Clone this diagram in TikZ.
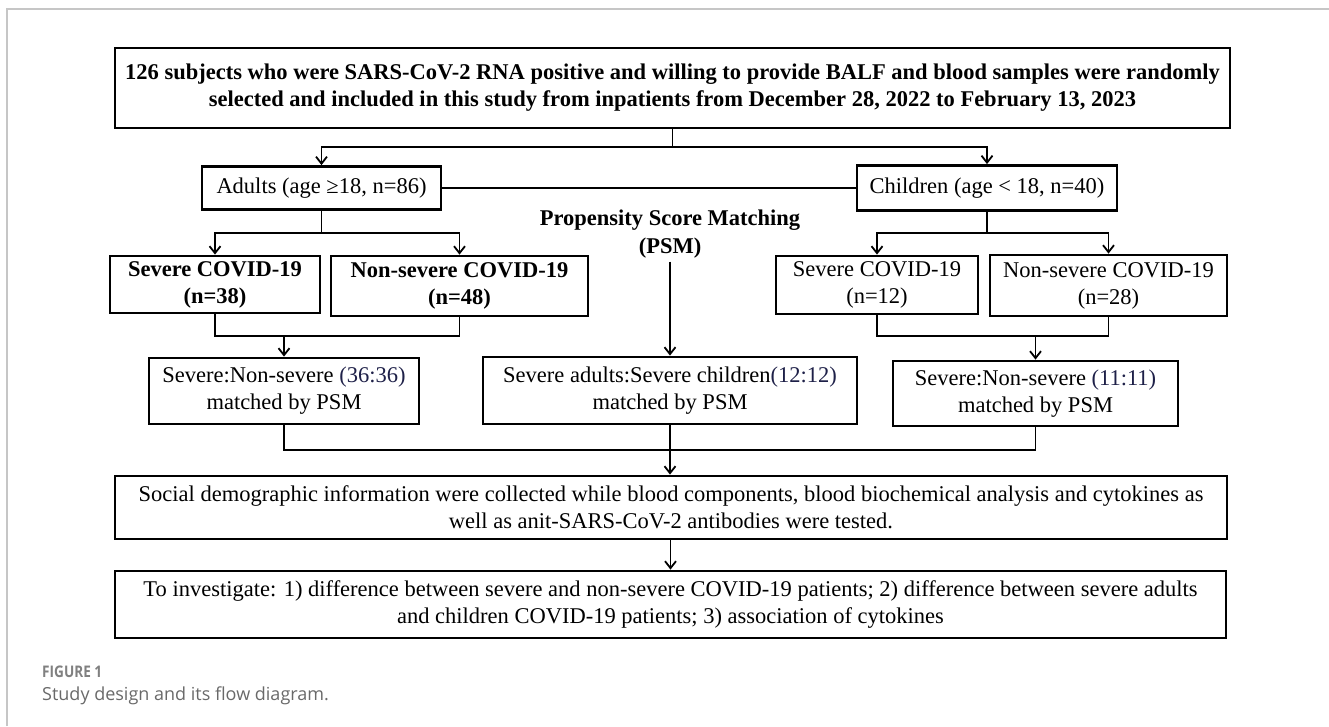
\documentclass[tikz,border=0pt]{standalone}
\usepackage{fontspec}
\setmainfont{Liberation Serif}
\newfontfamily\capfont{Open Sans}
\newfontfamily\capcond{Open Sans}[FakeStretch=0.85]
\usepackage{xcolor}
\usepackage{tikz}
\usetikzlibrary{positioning,arrows.meta,calc}
\definecolor{numblue}{RGB}{30,32,72}
\definecolor{capgray}{RGB}{105,105,105}
\newcommand{\ratio}[1]{\textcolor{numblue}{#1}}

\begin{document}
\begin{tikzpicture}[x=1pt, y=-1pt,
  box/.style={draw, line width=2.8pt, align=center, inner sep=0pt, font=\fontsize{22.5}{27}\selectfont},
  bbox/.style={box, font=\fontsize{22.5}{27}\selectfont\bfseries},
  link/.style={line width=1.8pt},
  arr/.style={link, -{Straight Barb[length=7pt,width=11pt]}}]
\useasboundingbox (0,0) rectangle (1329,726);
\draw[gray!45, line width=1.5pt] (7,726) -- (7,9) -- (1329,9);
% top of the flow
\node[bbox, minimum width=1115pt, minimum height=80pt] (top) at (672.5,88)
  {126 subjects who were SARS-CoV-2 RNA positive and willing to provide BALF and blood samples were randomly\\
   selected and included in this study from inpatients from December 28, 2022 to February 13, 2023};
\node[box, minimum width=239pt, minimum height=43pt] (adults) at (321.5,188) {Adults (age ≥18, n=86)};
\node[box, minimum width=260pt, minimum height=45pt] (children) at (987,188) {Children (age < 18, n=40)};
\node[font=\fontsize{22.5}{28}\selectfont\bfseries, align=center] (psm) at (670,234) {Propensity Score Matching\\(PSM)};
% severity groups
\node[bbox, minimum width=210pt, minimum height=57pt] (sevA) at (215,284.5) {Severe COVID-19\\(n=38)};
\node[bbox, minimum width=257pt, minimum height=60pt] (nonA) at (459.5,286) {Non-severe COVID-19\\(n=48)};
\node[box, minimum width=202pt, minimum height=58pt] (sevC) at (877,285) {Severe COVID-19\\(n=12)};
\node[box, minimum width=237pt, minimum height=61pt] (nonC) at (1108.5,285.5) {Non-severe COVID-19\\(n=28)};
% matched sets
\node[box, minimum width=270pt, minimum height=66pt] (matA) at (284,391) {Severe:Non-severe \ratio{(36:36)}\\matched by PSM};
\node[box, minimum width=374pt, minimum height=67pt] (matM) at (670,390.5) {Severe adults:Severe children\ratio{(12:12)}\\matched by PSM};
\node[box, minimum width=285pt, minimum height=65pt] (matC) at (1035.5,393.5) {Severe:Non-severe \ratio{(11:11)}\\matched by PSM};
% outcome
\node[box, minimum width=1112pt, minimum height=63pt] (collect) at (671,507.5)
  {Social demographic information were collected while blood components, blood biochemical analysis and cytokines as\\
   well as anit-SARS-CoV-2 antibodies were tested.};
\node[box, minimum width=1111pt, minimum height=67pt] (aim) at (670.5,604.5)
  {To investigate: 1) difference between severe and non-severe COVID-19 patients; 2) difference between severe adults\\
   and children COVID-19 patients; 3) association of cytokines};
\node[anchor=base west, inner sep=0pt, text=capgray!85, font=\capcond\fontsize{16}{19}\selectfont\bfseries] (figno) at (42,677) {FIGURE 1};
\node[anchor=base west, inner sep=0pt, text=capgray, font=\capfont\fontsize{18}{21}\selectfont] (caption) at (42,700) {Study design and its flow diagram.};
% connectors
\coordinate (splitT) at ($(top.south)!0.5!(top.south |- adults.north)$);
\draw[link] (top.south) -- (splitT);
\draw[arr] (splitT) -| (adults.north);
\draw[arr] (splitT) -| (children.north);
\draw[link] (adults.east) -- (children.west);
\coordinate (splitA) at ($(adults.south)!0.5!(adults.south |- sevA.north)$);
\draw[link] (adults.south) -- (splitA);
\draw[arr] (splitA) -| (sevA.north);
\draw[arr] (splitA) -| (nonA.north);
\coordinate (splitC) at ($(children.south)!0.5!(children.south |- sevC.north)$);
\draw[link] (children.south) -- (splitC);
\draw[arr] (splitC) -| (sevC.north);
\draw[arr] (splitC) -| (nonC.north);
\coordinate (joinA) at ([yshift=21pt]matA.north);
\draw[link] (sevA.south) |- (joinA) -| (nonA.south);
\draw[arr] (joinA) -- (matA.north);
\coordinate (joinC) at ([yshift=24pt]matC.north);
\draw[link] (sevC.south) |- (joinC) -| (nonC.south);
\draw[arr] (joinC) -- (matC.north);
\draw[arr] (psm.south -| matM.north) -- (matM.north);
\coordinate (collectTop) at ([yshift=25pt]collect.north);
\coordinate (joinB) at (matM.south |- collectTop);
\draw[link] (matA.south) |- (joinB) -| (matC.south);
\draw[arr] (matM.south) -- (matM.south |- collect.north);
\draw[arr] (collect.south -| aim.north) -- (aim.north);
\end{tikzpicture}
\end{document}
